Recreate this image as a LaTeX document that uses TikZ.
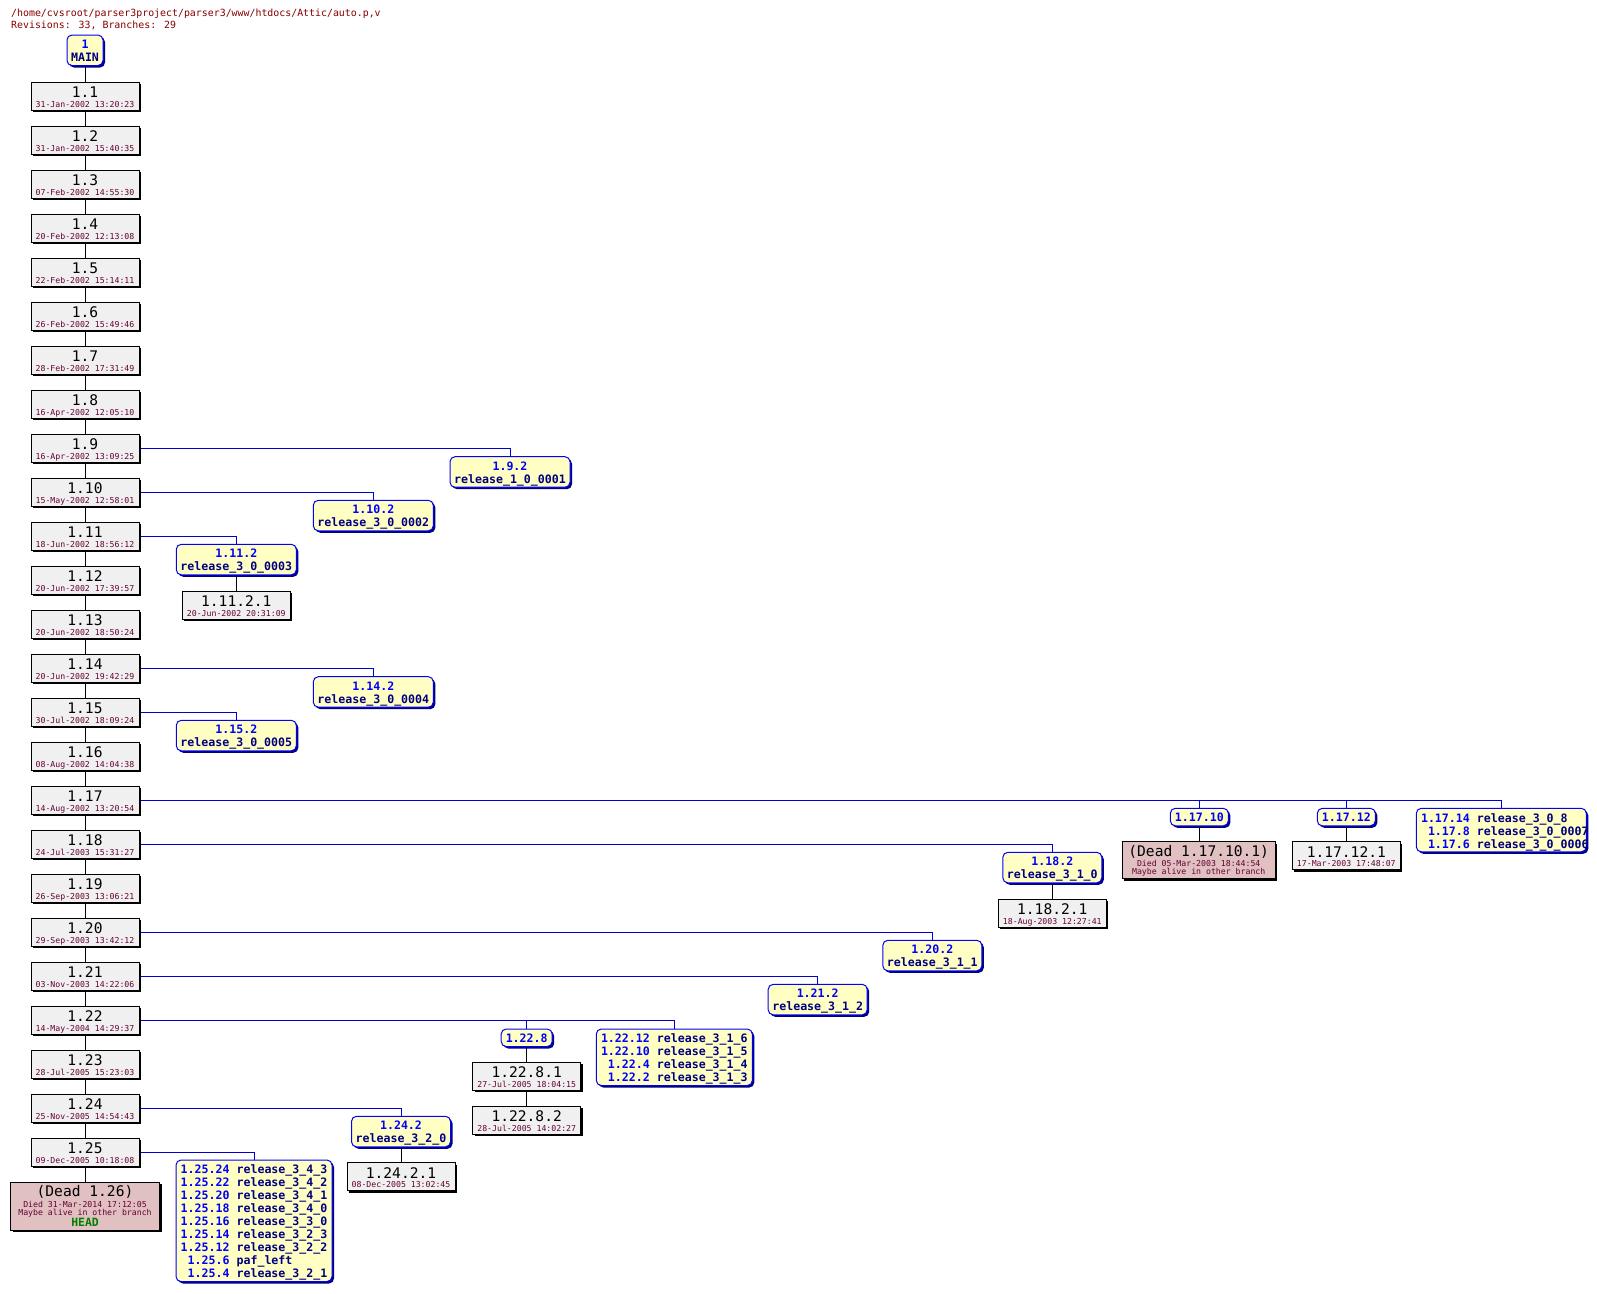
\documentclass[tikz,border=0pt]{standalone}
\usepackage{fontspec}
\usetikzlibrary{shadows}
\newfontfamily\mono{DejaVu Sans Mono}
\definecolor{hdr}{RGB}{136,0,0}
\definecolor{datec}{RGB}{102,0,51}
\definecolor{revfill}{RGB}{240,240,240}
\definecolor{deadfill}{RGB}{224,192,192}
\definecolor{brfill}{RGB}{255,255,196}
\definecolor{brborder}{RGB}{0,0,255}
\definecolor{brshadow}{RGB}{0,0,128}
\definecolor{revnum}{RGB}{0,0,255}
\definecolor{tagc}{RGB}{0,0,128}
\definecolor{headc}{RGB}{0,128,0}
\definecolor{brline}{RGB}{0,0,210}
\newcommand\fT{\mono\fontsize{14.6}{15}\selectfont}
\newcommand\fD{\mono\fontsize{8.2}{9}\selectfont}
\newcommand\fB{\mono\bfseries\fontsize{11.6}{13}\selectfont}
\newcommand\fHd{\mono\bfseries\fontsize{11.4}{13}\selectfont}
\newcommand\fH{\mono\fontsize{9.9}{12}\selectfont}
\pgfdeclarelayer{bg}\pgfsetlayers{bg,main}
\tikzset{
 revbox/.style={draw=black, line width=1pt, fill=revfill, minimum width=108pt, minimum height=28pt, inner sep=0pt,
   drop shadow={shadow xshift=2pt, shadow yshift=-2pt, fill=black, opacity=1}},
 deadbox/.style={revbox, fill=deadfill},
 brbox/.style={draw=brborder, line width=1pt, fill=brfill, rounded corners=5pt, inner sep=0pt,
   drop shadow={shadow xshift=2pt, shadow yshift=-2pt, fill=brshadow, opacity=1}},
 txt/.style={inner sep=0pt, anchor=base},
 ttl/.style={txt, font=\fT, text=black},
 dte/.style={txt, font=\fD, text=datec},
 brn/.style={txt, font=\fB, text=revnum},
 tagtxt/.style={txt, font=\fB, text=tagc},
 rowtxt/.style={txt, font=\fB, anchor=base west},
 trunkline/.style={draw=black, line width=1pt},
 branchline/.style={draw=brline, line width=1pt},
}
% revision: name, cx, top, title, date
\newcommand\RevNode[5]{%
 \node[revbox] (#1) at ({#2},{#3+14}) {};
 \node[ttl] (#1-t) at ({#2},{#3+15.5}) {#4};
 \node[dte] (#1-d) at ({#2},{#3+25}) {#5};
}
% branch box: name, cx, top, width, rows
\newcommand\BrBox[5]{%
 \pgfmathsetmacro\bh{13*#5+4.5}
 \node[brbox, minimum width=#4pt, minimum height=\bh pt] (#1) at ({#2},{#3+\bh/2}) {};
}
\newcommand\BrTwo[6]{%
 \BrBox{#1}{#2}{#3}{#4}{2}
 \node[brn] (#1-r) at ({#2},{#3+13.5}) {#5};
 \node[tagtxt] (#1-g) at ({#2},{#3+26.6}) {#6};
}
\newcommand\BrOne[5]{%
 \BrBox{#1}{#2}{#3}{#4}{1}
 \node[brn] (#1-r) at ({#2},{#3+13.6}) {#5};
}
% list row: name, left x, top, k, content
\newcommand\LRow[5]{%
 \node[rowtxt] (#1) at ({#2+4.5},{#3+13.8+12.95*#4}) {#5};
}
\newcommand\LR[2]{\textcolor{revnum}{#1}\ \textcolor{tagc}{#2}}
\newcommand\pd{\hphantom{1}}
\begin{document}
\begin{tikzpicture}[x=1pt,y=-1pt]
\begin{pgfonlayer}{bg}
\path[fill=white] (0,0) rectangle (1597,1293);
\end{pgfonlayer}
\useasboundingbox (0,0) rectangle (1597,1293);

\node[txt, anchor=base west, font=\fH, text=hdr] (h1) at (11,16) {/home/cvsroot/parser3project/parser3/www/htdocs/Attic/auto.p,v};
\node[txt, anchor=base west, font=\fH, text=hdr] (h2) at (11,28.3) {Revisions: 33, Branches: 29};

\BrTwo{main}{85}{35}{36}{1}{MAIN}

\foreach \n/\d in {1/{31-Jan-2002 13:20:23},2/{31-Jan-2002 15:40:35},3/{07-Feb-2002 14:55:30},
 4/{20-Feb-2002 12:13:08},5/{22-Feb-2002 15:14:11},6/{26-Feb-2002 15:49:46},7/{28-Feb-2002 17:31:49},
 8/{16-Apr-2002 12:05:10},9/{16-Apr-2002 13:09:25},10/{15-May-2002 12:58:01},11/{18-Jun-2002 18:56:12},
 12/{20-Jun-2002 17:39:57},13/{20-Jun-2002 18:50:24},14/{20-Jun-2002 19:42:29},15/{30-Jul-2002 18:09:24},
 16/{08-Aug-2002 14:04:38},17/{14-Aug-2002 13:20:54},18/{24-Jul-2003 15:31:27},19/{26-Sep-2003 13:06:21},
 20/{29-Sep-2003 13:42:12},21/{03-Nov-2003 14:22:06},22/{14-May-2004 14:29:37},23/{28-Jul-2005 15:23:03},
 24/{25-Nov-2005 14:54:43},25/{09-Dec-2005 10:18:08}}
{\RevNode{r\n}{85}{82.3+44*(\n-1)}{1.\n}{\d}}

% dead 1.26
\node[deadbox, minimum width=149pt, minimum height=47.7pt] (d126) at (85,{1182.3+23.85}) {};
\node[ttl] (d126-a) at (85,{1182.3+14.5}) {(Dead 1.26)};
\node[dte] (d126-b) at (85,{1182.3+25.2}) {Died 31-Mar-2014 17:12:05};
\node[dte] (d126-c) at (85,{1182.3+33}) {Maybe alive in other branch};
\node[txt, font=\fHd, text=headc] (d126-d) at (85,{1182.3+44.6}) {HEAD};

% branch boxes
\BrTwo{b92}{510}{456.7}{120}{1.9.2}{release\_1\_0\_0001}
\BrTwo{b102}{373.3}{500.3}{120}{1.10.2}{release\_3\_0\_0002}
\BrTwo{b112}{236.3}{544.3}{120}{1.11.2}{release\_3\_0\_0003}
\BrTwo{b142}{373.3}{676.7}{120}{1.14.2}{release\_3\_0\_0004}
\BrTwo{b152}{236.3}{720.3}{120}{1.15.2}{release\_3\_0\_0005}
\BrOne{b1710}{1199.3}{808.3}{58}{1.17.10}
\BrOne{b1712}{1346.3}{808.3}{58}{1.17.12}
\BrBox{b1714}{1501.3}{808.3}{170}{3}
\begin{scope}
\clip (b1714.south west) rectangle (b1714.north east);
\LRow{b1714-a}{1416.3}{808.3}{0}{\LR{1.17.14}{release\_3\_0\_8}}
\LRow{b1714-b}{1416.3}{808.3}{1}{\LR{\pd1.17.8}{release\_3\_0\_0007}}
\LRow{b1714-c}{1416.3}{808.3}{2}{\LR{\pd1.17.6}{release\_3\_0\_0006}}
\end{scope}
\BrTwo{b182}{1052.3}{852.3}{99}{1.18.2}{release\_3\_1\_0}
\BrTwo{b202}{932.3}{940.3}{99}{1.20.2}{release\_3\_1\_1}
\BrTwo{b212}{817.7}{984.3}{99}{1.21.2}{release\_3\_1\_2}
\BrOne{b228}{526.7}{1029}{51}{1.22.8}
\BrBox{b22}{674.3}{1029}{156}{4}
\LRow{b22-a}{596.3}{1029}{0}{\LR{1.22.12}{release\_3\_1\_6}}
\LRow{b22-b}{596.3}{1029}{1}{\LR{1.22.10}{release\_3\_1\_5}}
\LRow{b22-c}{596.3}{1029}{2}{\LR{\pd1.22.4}{release\_3\_1\_4}}
\LRow{b22-d}{596.3}{1029}{3}{\LR{\pd1.22.2}{release\_3\_1\_3}}
\BrTwo{b242}{401}{1116.3}{99}{1.24.2}{release\_3\_2\_0}
\BrBox{b25}{254}{1160}{156}{9}
\LRow{b25-a}{176}{1160}{0}{\LR{1.25.24}{release\_3\_4\_3}}
\LRow{b25-b}{176}{1160}{1}{\LR{1.25.22}{release\_3\_4\_2}}
\LRow{b25-c}{176}{1160}{2}{\LR{1.25.20}{release\_3\_4\_1}}
\LRow{b25-d}{176}{1160}{3}{\LR{1.25.18}{release\_3\_4\_0}}
\LRow{b25-e}{176}{1160}{4}{\LR{1.25.16}{release\_3\_3\_0}}
\LRow{b25-f}{176}{1160}{5}{\LR{1.25.14}{release\_3\_2\_3}}
\LRow{b25-g}{176}{1160}{6}{\LR{1.25.12}{release\_3\_2\_2}}
\LRow{b25-h}{176}{1160}{7}{\LR{\pd1.25.6}{paf\_left}}
\LRow{b25-i}{176}{1160}{8}{\LR{\pd1.25.4}{release\_3\_2\_1}}

% branch revisions
\RevNode{r1121}{236.3}{591.3}{1.11.2.1}{20-Jun-2002 20:31:09}
\RevNode{r17121}{1346.3}{841.7}{1.17.12.1}{17-Mar-2003 17:48:07}
\RevNode{r1821}{1052.3}{899}{1.18.2.1}{18-Aug-2003 12:27:41}
\RevNode{r2281}{526.7}{1062.3}{1.22.8.1}{27-Jul-2005 18:04:15}
\RevNode{r2282}{526.7}{1106.3}{1.22.8.2}{28-Jul-2005 14:02:27}
\RevNode{r2421}{401}{1162.7}{1.24.2.1}{08-Dec-2005 13:02:45}

\node[deadbox, minimum width=153pt, minimum height=37pt] (d1710) at (1198.7,{841.7+18.5}) {};
\node[ttl] (d1710-a) at (1198.7,{841.7+14.8}) {(Dead 1.17.10.1)};
\node[dte] (d1710-b) at (1198.7,{841.7+25.2}) {Died 05-Mar-2003 18:44:54};
\node[dte] (d1710-c) at (1198.7,{841.7+33}) {Maybe alive in other branch};

\begin{pgfonlayer}{bg}
\draw[trunkline] (main) -- (r1);
\foreach \n [evaluate=\n as \m using int(\n+1)] in {1,...,24} {\draw[trunkline] (r\n) -- (r\m);}
\draw[trunkline] (r25) -- (d126);
\foreach \a/\b in {r9/b92,r10/b102,r11/b112,r14/b142,r15/b152,r17/b1710,r17/b1712,r17/b1714,
  r18/b182,r20/b202,r21/b212,r22/b228,r22/b22,r24/b242,r25/b25}
 {\draw[branchline] (\a.east) -| (\b.north);}
\foreach \a/\b in {b112/r1121,b1710/d1710,b1712/r17121,b182/r1821,b228/r2281,r2281/r2282,b242/r2421}
 {\draw[trunkline] (\a.south) -- (\a.south |- \b.north);}
\end{pgfonlayer}
\end{tikzpicture}
\end{document}
